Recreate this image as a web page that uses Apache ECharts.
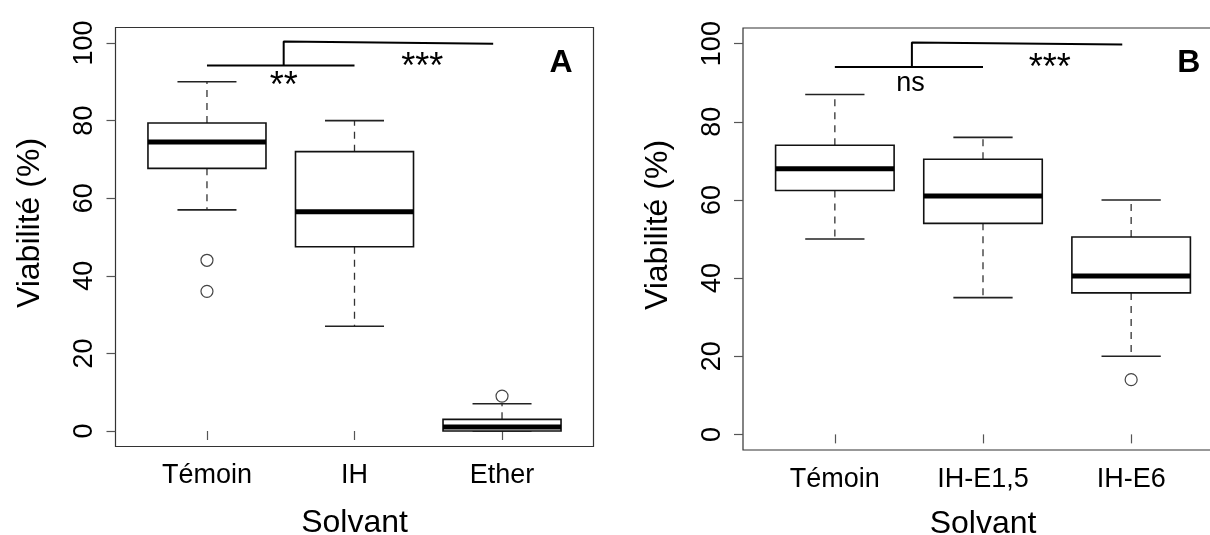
<!DOCTYPE html>
<html>
<head>
<meta charset="utf-8">
<script src="https://cdn.jsdelivr.net/npm/echarts@6/dist/echarts.min.js"></script>
<style>
  html, body { margin: 0; padding: 0; background: #fff; }
  #chart { width: 1210px; height: 535px; }
</style>
</head>
<body>
<div id="chart"></div>
<script>
// Panneau A
const catsA = ['Témoin', 'IH', 'Ether'];
// [min, Q1, médiane, Q3, max]
const boxA = [[57, 67.7, 74.5, 79.4, 90], [27, 47.5, 56.5, 72, 80], [0, 0, 1, 3, 7]];
const outA = [[1, 44], [1, 36], [3, 9]];
const barA = [[1, 94.2], [2, 94.2]];
const hookA = [[1.52, 94.2], [1.52, 100.4], [2.94, 99.8]];
const textA = [['**', 1.52, 90.4], ['***', 2.46, 95.3], ['A', 3.4, 94.7]];

// Panneau B
const catsB = ['Témoin', 'IH-E1,5', 'IH-E6'];
const boxB = [[50, 62.4, 68, 74, 87], [35, 54, 61, 70.4, 76], [20, 36.2, 40.5, 50.5, 60]];
const outB = [[3, 14]];
const barB = [[1, 94], [2, 94]];
const hookB = [[1.52, 94], [1.52, 100.3], [2.94, 99.8]];
const textB = [['ns', 1.51, 89.9], ['***', 2.45, 95.4], ['B', 3.39, 94.9]];

const yTicks = [0, 20, 40, 60, 80, 100];
const xTicks = [1, 2, 3];

const FONT = 'Liberation Sans, Arial, sans-serif';

function renderBox(params, api) {
  const x = api.value(0);
  const mn = api.value(1), q1 = api.value(2), md = api.value(3), q3 = api.value(4), mx = api.value(5);
  const p = (a, b) => api.coord([a, b]);
  const seg = (a, b, style) => ({
    type: 'line',
    shape: { x1: a[0], y1: a[1], x2: b[0], y2: b[1] },
    style: style
  });
  const dash = { stroke: '#333', lineWidth: 1.3, lineDash: [7, 6] };
  const solid = { stroke: '#222', lineWidth: 1.6 };
  const tl = p(x - 0.4, q3);
  const br = p(x + 0.4, q1);
  return {
    type: 'group',
    children: [
      seg(p(x, q3), p(x, mx), dash),
      seg(p(x, q1), p(x, mn), dash),
      seg(p(x - 0.2, mx), p(x + 0.2, mx), solid),
      seg(p(x - 0.2, mn), p(x + 0.2, mn), solid),
      {
        type: 'rect',
        shape: { x: tl[0], y: tl[1], width: br[0] - tl[0], height: br[1] - tl[1] },
        style: { fill: '#fff', stroke: '#111', lineWidth: 1.6 }
      },
      seg(p(x - 0.4, md), p(x + 0.4, md), { stroke: '#000', lineWidth: 5 })
    ]
  };
}

function xAxisOf(idx, cats, gap) {
  return {
    type: 'value', gridIndex: idx, min: 0.38, max: 3.62,
    axisLine: { show: false },
    axisTick: { show: true, customValues: xTicks, length: 9, lineStyle: { color: '#555', width: 1.2 } },
    axisLabel: {
      customValues: xTicks, formatter: v => cats[Math.round(v) - 1],
      fontSize: 27, color: '#000', fontFamily: FONT, margin: 16
    },
    splitLine: { show: false },
    name: 'Solvant', nameLocation: 'middle', nameGap: gap,
    nameTextStyle: { fontSize: 32, color: '#000', fontFamily: FONT }
  };
}

function yAxisOf(idx) {
  return {
    type: 'value', gridIndex: idx, min: -4, max: 104,
    axisLine: { show: false },
    axisTick: { show: true, customValues: yTicks, length: 9, lineStyle: { color: '#555', width: 1.2 } },
    axisLabel: {
      customValues: yTicks, rotate: 90,
      fontSize: 27, color: '#000', fontFamily: FONT, margin: 17
    },
    splitLine: { show: false },
    name: 'Viabilité (%)', nameLocation: 'middle', nameGap: 69,
    nameTextStyle: { fontSize: 32, color: '#000', fontFamily: FONT, padding: [0, 0, 0, 28] }
  };
}

function seriesOf(idx, boxes, outliers, bar, hook, texts) {
  const lineStyle = { color: '#000', width: 2 };
  return [
    {
      type: 'custom', xAxisIndex: idx, yAxisIndex: idx,
      renderItem: renderBox,
      encode: { x: 0, y: [1, 2, 3, 4, 5] },
      data: boxes.map((b, i) => [i + 1].concat(b))
    },
    {
      type: 'scatter', xAxisIndex: idx, yAxisIndex: idx,
      symbol: 'circle', symbolSize: 12,
      itemStyle: { color: '#fff', borderColor: '#444', borderWidth: 1.2, opacity: 1 },
      data: outliers
    },
    {
      type: 'line', xAxisIndex: idx, yAxisIndex: idx,
      showSymbol: false, lineStyle: lineStyle, data: bar
    },
    {
      type: 'line', xAxisIndex: idx, yAxisIndex: idx,
      showSymbol: false, lineStyle: lineStyle, data: hook
    },
    {
      type: 'scatter', xAxisIndex: idx, yAxisIndex: idx,
      symbolSize: 0,
      itemStyle: { opacity: 1 },
      data: texts.map(t => ({ name: t[0], value: [t[1], t[2]] })),
      label: { show: true, position: 'inside', formatter: '{b}' }
    }
  ];
}

// taille des textes selon le type d'annotation
function labelOf(name) {
  const base = { color: '#000', textBorderWidth: 0, fontFamily: FONT };
  if (name === 'A' || name === 'B') return Object.assign(base, { fontSize: 32, fontWeight: 'bold' });
  if (name === 'ns') return Object.assign(base, { fontSize: 27 });
  return Object.assign(base, { fontSize: 36, offset: [0, 7] });
}

const myChart = echarts.init(document.getElementById('chart'));
const series = seriesOf(0, boxA, outA, barA, hookA, textA)
  .concat(seriesOf(1, boxB, outB, barB, hookB, textB));

series.forEach(s => {
  if (s.type === 'scatter' && s.symbolSize === 0) {
    s.data.forEach(d => { d.label = labelOf(d.name); });
  }
});

myChart.setOption({
  backgroundColor: '#fff',
  animation: false,
  grid: [
    { left: 115.5, top: 27.5, width: 478, height: 419, outerBoundsMode: 'none', show: true, borderColor: '#333', borderWidth: 1.2, backgroundColor: 'transparent' },
    { left: 743, top: 28, width: 480, height: 422, outerBoundsMode: 'none', show: true, borderColor: '#333', borderWidth: 1.2, backgroundColor: 'transparent' }
  ],
  xAxis: [xAxisOf(0, catsA, 61), xAxisOf(1, catsB, 58)],
  yAxis: [yAxisOf(0), yAxisOf(1)],
  series: series
});
</script>
</body>
</html>
